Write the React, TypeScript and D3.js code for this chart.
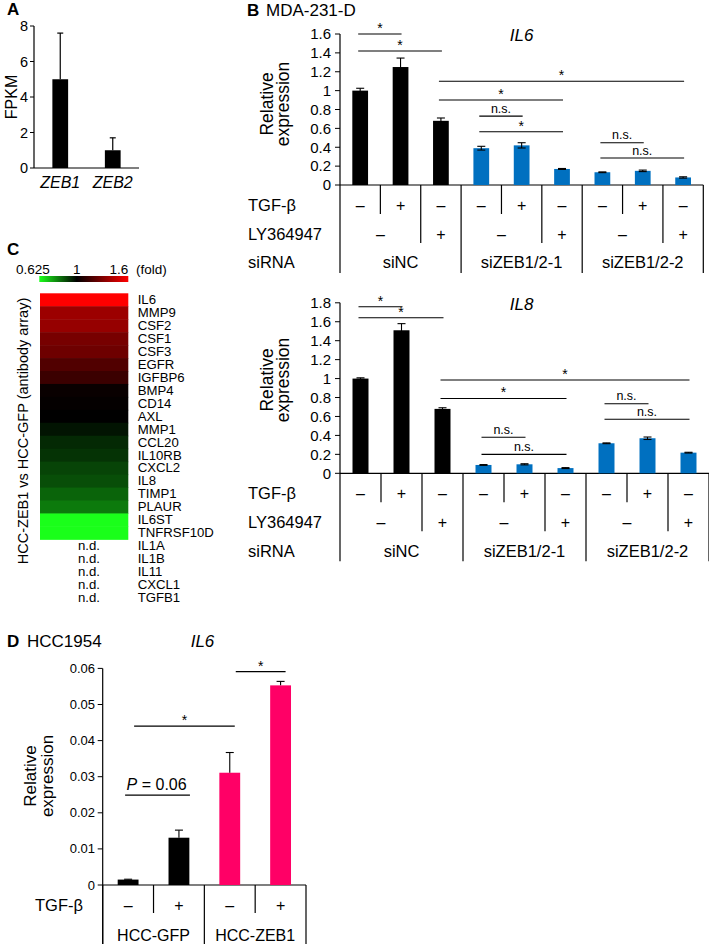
import React from "react";
import * as d3 from "d3";

const FONT = "'Liberation Sans', Arial, Helvetica, sans-serif";
const BLACK = "#000000";
const BLUE = "#0070C0";
const PINK = "#FF0066";

// ---------- Panel A ----------
const aGenes = ["ZEB1", "ZEB2"];
const aFpkm = [5.0, 1.0];
const aFpkmErr = [2.6, 0.7];
const aTicks = [0, 2, 4, 6, 8];

// ---------- Panel B ----------
const bRowLabels = ["TGF-β", "LY364947", "siRNA"];
const bTgf = ["–", "+", "–", "–", "+", "–", "–", "+", "–"];
const bLyLabels = ["–", "+", "–", "+", "–", "+"];
const bLySpans = [[0, 1], [2, 2], [3, 4], [5, 5], [6, 7], [8, 8]];
const bSiLabels = ["siNC", "siZEB1/2-1", "siZEB1/2-2"];
const bSiSpans = [[0, 2], [3, 5], [6, 8]];

const il6Values = [1.0, 1.25, 0.68, 0.39, 0.42, 0.17, 0.135, 0.15, 0.08];
const il6Err = [0.025, 0.095, 0.03, 0.02, 0.028, 0.005, 0.004, 0.008, 0.007];
const il6Ticks = [0, 0.2, 0.4, 0.6, 0.8, 1, 1.2, 1.4, 1.6];
const il6Sig = [
  { from: 0, to: 1, level: 1.6, label: "*" },
  { from: 0, to: 2, level: 1.42, label: "*" },
  { from: 2, to: 8, level: 1.1, label: "*" },
  { from: 2, to: 5, level: 0.9, label: "*" },
  { from: 3, to: 4, level: 0.73, label: "n.s." },
  { from: 3, to: 5, level: 0.565, label: "*" },
  { from: 6, to: 7, level: 0.448, label: "n.s." },
  { from: 6, to: 8, level: 0.286, label: "n.s." },
];

const il8Values = [1.0, 1.51, 0.68, 0.088, 0.095, 0.055, 0.317, 0.37, 0.218];
const il8Err = [0.008, 0.07, 0.012, 0.004, 0.006, 0.005, 0.004, 0.013, 0.004];
const il8Ticks = [0, 0.2, 0.4, 0.6, 0.8, 1, 1.2, 1.4, 1.6, 1.8];
const il8Sig = [
  { from: 0, to: 1, level: 1.758, label: "*" },
  { from: 0, to: 2, level: 1.642, label: "*" },
  { from: 2, to: 8, level: 0.985, label: "*" },
  { from: 2, to: 5, level: 0.79, label: "*" },
  { from: 6, to: 7, level: 0.735, label: "n.s." },
  { from: 6, to: 8, level: 0.57, label: "n.s." },
  { from: 3, to: 4, level: 0.38, label: "n.s." },
  { from: 3, to: 5, level: 0.2, label: "n.s." },
];

// ---------- Panel C ----------
const heatGenes = [
  "IL6", "MMP9", "CSF2", "CSF1", "CSF3", "EGFR", "IGFBP6", "BMP4", "CD14", "AXL",
  "MMP1", "CCL20", "IL10RB", "CXCL2", "IL8", "TIMP1", "PLAUR", "IL6ST", "TNFRSF10D",
];
const heatFold = [
  1.6, 1.366, 1.354, 1.28, 1.26, 1.19, 1.14, 1.02, 1.01, 1.0,
  0.97, 0.94, 0.925, 0.9, 0.885, 0.853, 0.82, 0.625, 0.625,
];
const ndGenes = ["IL1A", "IL1B", "IL11", "CXCL1", "TGFB1"];
const foldScaleLabels = ["0.625", "1", "1.6"];

// ---------- Panel D ----------
const dValues = [0.0015, 0.0131, 0.0311, 0.0553];
const dErr = [0.0001, 0.0021, 0.0056, 0.0011];
const dTicks = [0, 0.01, 0.02, 0.03, 0.04, 0.05, 0.06];
const dTgf = ["–", "+", "–", "+"];
const dGroups = ["HCC-GFP", "HCC-ZEB1"];
const dGroupSpans = [[0, 1], [2, 3]];
const dSig = [
  { from: 2, to: 3, level: 0.0591, label: "*" },
  { from: 0, to: 2, level: 0.044, label: "*" },
  { from: 0, to: 1, level: 0.0249, label: "P = 0.06" },
];

const fmt = d3.format("~g");

function PanelA() {
  const x = d3.scaleBand<string>().domain(aGenes).range([34, 139]);
  const y = d3.scaleLinear().domain([0, 8]).range([168, 26]);
  const bw = x.bandwidth();
  const barW = bw * 0.3;
  return (
    <g>
      <text x={7} y={15} fontSize={17} fontWeight="bold">A</text>
      <line x1={34} x2={34} y1={y(8)} y2={y(0)} stroke="#000" strokeWidth={1.2} />
      <line x1={34} x2={139} y1={y(0)} y2={y(0)} stroke="#000" strokeWidth={1.2} />
      {aTicks.map((t) => (
        <g key={t}>
          <line x1={30} x2={34} y1={y(t)} y2={y(t)} stroke="#000" />
          <text x={28} y={y(t)} dy="0.35em" textAnchor="end" fontSize={14.5}>{t}</text>
        </g>
      ))}
      <text transform={`translate(11,${y(4)}) rotate(-90)`} textAnchor="middle" dy="0.35em" fontSize={16}>FPKM</text>
      {aGenes.map((g, i) => {
        const cx = x(g)! + bw / 2;
        return (
          <g key={g}>
            <rect x={cx - barW / 2} y={y(aFpkm[i])} width={barW} height={y(0) - y(aFpkm[i])} fill={BLACK} />
            <line x1={cx} x2={cx} y1={y(aFpkm[i])} y2={y(aFpkm[i] + aFpkmErr[i])} stroke="#000" strokeWidth={1.2} />
            <line x1={cx - 3} x2={cx + 3} y1={y(aFpkm[i] + aFpkmErr[i])} y2={y(aFpkm[i] + aFpkmErr[i])} stroke="#000" strokeWidth={1.2} />
            <text x={cx} y={182} dy="0.35em" textAnchor="middle" fontSize={16} fontStyle="italic">{g}</text>
          </g>
        );
      })}
    </g>
  );
}

type Sig = { from: number; to: number; level: number; label: string };

function BChart(props: {
  values: number[]; errs: number[]; ticks: number[]; yMax: number; yZero: number; yTop: number;
  xRange: [number, number]; title: string; titleY: number; sigs: Sig[]; labelY: number;
}) {
  const { values, errs, ticks, yMax, yZero, yTop, xRange, title, titleY, sigs, labelY } = props;
  const idx = d3.range(values.length);
  const x = d3.scaleBand<number>().domain(idx).range(xRange);
  const y = d3.scaleLinear().domain([0, yMax]).range([yZero, yTop]);
  const bw = x.bandwidth();
  const barW = bw * 0.39;
  const cx = (i: number) => x(i)! + bw / 2;
  const groupOf = (i: number) => bSiSpans.findIndex((s) => i >= s[0] && i <= s[1]);
  const rowY = [yZero + 20, yZero + 49, yZero + 77.5];
  const tableBottom = yZero + 88;
  const boundaries = d3.range(values.length + 1).map((i) => {
    const xp = i < values.length ? x(i)! : xRange[1];
    let bottom = yZero + 29;
    if (i === 0 || i === values.length || bSiSpans.some((s) => s[0] === i)) bottom = tableBottom;
    else if (bLySpans.some((s) => s[0] === i)) bottom = yZero + 58;
    return { xp, bottom, i };
  });
  const spanCenter = (s: number[]) => (x(s[0])! + x(s[1])! + bw) / 2;
  return (
    <g>
      <line x1={xRange[0]} x2={xRange[0]} y1={yTop} y2={yZero} stroke="#000" strokeWidth={1.2} />
      <line x1={xRange[0]} x2={xRange[1]} y1={yZero} y2={yZero} stroke="#000" strokeWidth={1.2} />
      {ticks.map((t) => (
        <g key={t}>
          <line x1={xRange[0] - 5} x2={xRange[0]} y1={y(t)} y2={y(t)} stroke="#000" />
          <text x={331} y={y(t)} dy="0.35em" textAnchor="end" fontSize={15}>{fmt(t)}</text>
        </g>
      ))}
      <text transform={`translate(266.7,${labelY}) rotate(-90)`} textAnchor="middle" dy="0.35em" fontSize={17.5}>Relative</text>
      <text transform={`translate(283,${labelY}) rotate(-90)`} textAnchor="middle" dy="0.35em" fontSize={17.5}>expression</text>
      <text x={(xRange[0] + 703.3) / 2} y={titleY} textAnchor="middle" fontSize={17} fontStyle="italic">{title}</text>
      {idx.map((i) => {
        const v = values[i];
        const e = errs[i];
        return (
          <g key={i}>
            <rect x={cx(i) - barW / 2} y={y(v)} width={barW} height={yZero - y(v)} fill={groupOf(i) === 0 ? BLACK : BLUE} />
            <line x1={cx(i)} x2={cx(i)} y1={y(v - e)} y2={y(v + e)} stroke="#000" strokeWidth={1.1} />
            <line x1={cx(i) - 4} x2={cx(i) + 4} y1={y(v + e)} y2={y(v + e)} stroke="#000" strokeWidth={1.1} />
            <line x1={cx(i) - 4} x2={cx(i) + 4} y1={y(v - e)} y2={y(v - e)} stroke="#000" strokeWidth={1.1} />
          </g>
        );
      })}
      {sigs.map((s, k) => {
        const x1 = cx(s.from) - 2;
        const x2 = cx(s.to) + 1;
        const ly = y(s.level);
        const star = s.label === "*";
        return (
          <g key={k}>
            <line x1={x1} x2={x2} y1={ly} y2={ly} stroke="#000" strokeWidth={1.1} />
            <text x={(x1 + x2) / 2} y={star ? ly - 1 : ly - 3.5} textAnchor="middle" fontSize={star ? 14 : 12.5}>{s.label}</text>
          </g>
        );
      })}
      {/* table */}
      {boundaries.map((b) => (
        <line key={b.i} x1={b.xp} x2={b.xp} y1={yZero} y2={b.bottom} stroke="#000" strokeWidth={1.2} />
      ))}
      {bRowLabels.map((l, r) => (
        <text key={l} x={248} y={rowY[r]} dy="0.35em" fontSize={16.5}>{l}</text>
      ))}
      {bTgf.map((t, i) => (
        <text key={i} x={cx(i)} y={rowY[0]} dy="0.35em" textAnchor="middle" fontSize={16}>{t}</text>
      ))}
      {bLyLabels.map((t, k) => (
        <text key={k} x={spanCenter(bLySpans[k])} y={rowY[1]} dy="0.35em" textAnchor="middle" fontSize={16}>{t}</text>
      ))}
      {bSiLabels.map((t, k) => (
        <text key={k} x={spanCenter(bSiSpans[k])} y={rowY[2]} dy="0.35em" textAnchor="middle" fontSize={16.5}>{t}</text>
      ))}
    </g>
  );
}

function PanelB() {
  return (
    <g>
      <text x={247} y={15.5} fontSize={17} fontWeight="bold">B</text>
      <text x={266} y={15.5} fontSize={17}>MDA-231-D</text>
      <BChart values={il6Values} errs={il6Err} ticks={il6Ticks} yMax={1.6} yZero={185} yTop={34}
        xRange={[340, 703.3]} title="IL6" titleY={41} sigs={il6Sig} labelY={104} />
      <BChart values={il8Values} errs={il8Err} ticks={il8Ticks} yMax={1.8} yZero={473.3} yTop={302.8}
        xRange={[340, 709]} title="IL8" titleY={309.5} sigs={il8Sig} labelY={380} />
    </g>
  );
}

function PanelC() {
  const allGenes = heatGenes.concat(ndGenes);
  const rows = d3.scaleBand<string>().domain(allGenes).range([293.3, 293.3 + allGenes.length * 12.95]);
  const color = d3.scaleLinear<string>().domain([0.625, 1, 1.6]).range(["#1aff1a", "#000000", "#ff0000"]);
  const cbar = d3.scaleLinear().domain([0.625, 1, 1.6]).range([39.3, 76.7, 128.3]);
  const stopOff = (cbar(1) - cbar(0.625)) / (cbar(1.6) - cbar(0.625));
  const labelX = [16, cbar(1), cbar(1.6)];
  const anchors = ["start", "middle", "end"];
  return (
    <g>
      <defs>
        <linearGradient id="foldGrad" x1="0" x2="1" y1="0" y2="0">
          <stop offset="0" stopColor={color(0.625)} />
          <stop offset={stopOff} stopColor={color(1)} />
          <stop offset="1" stopColor={color(1.6)} />
        </linearGradient>
      </defs>
      <text x={7} y={255} fontSize={17} fontWeight="bold">C</text>
      {foldScaleLabels.map((l, i) => (
        <text key={l} x={labelX[i]} y={274} textAnchor={anchors[i] as any} fontSize={13.5}>{l}</text>
      ))}
      <text x={136} y={274} fontSize={13.5}>(fold)</text>
      <rect x={cbar(0.625)} y={276} width={cbar(1.6) - cbar(0.625)} height={6} fill="url(#foldGrad)" />
      {heatGenes.map((g, i) => (
        <rect key={g} x={40} y={rows(g)!} width={88.3} height={rows.bandwidth() + 0.5} fill={color(heatFold[i])} />
      ))}
      {allGenes.map((g) => (
        <text key={g} x={137.7} y={rows(g)! + rows.bandwidth() / 2} dy="0.33em" fontSize={13.2}>{g}</text>
      ))}
      {ndGenes.map((g) => (
        <text key={g} x={78} y={rows(g)! + rows.bandwidth() / 2} dy="0.33em" fontSize={13.2}>n.d.</text>
      ))}
      <text transform="translate(23,431) rotate(-90)" textAnchor="middle" dy="0.35em" fontSize={14.5}>
        HCC-ZEB1 vs HCC-GFP (antibody array)
      </text>
    </g>
  );
}

function PanelD() {
  const idx = d3.range(dValues.length);
  const xR: [number, number] = [102.7, 306];
  const x = d3.scaleBand<number>().domain(idx).range(xR);
  const y = d3.scaleLinear().domain([0, 0.06]).range([885, 668.4]);
  const bw = x.bandwidth();
  const barW = bw * 0.41;
  const cx = (i: number) => x(i)! + bw / 2;
  const yZero = y(0);
  return (
    <g>
      <text x={7} y={646.7} fontSize={17} fontWeight="bold">D</text>
      <text x={27} y={646.7} fontSize={17}>HCC1954</text>
      <text x={202.5} y={646.7} textAnchor="middle" fontSize={17} fontStyle="italic">IL6</text>
      <line x1={xR[0]} x2={xR[0]} y1={y(0.06)} y2={944} stroke="#000" strokeWidth={1.2} />
      <line x1={xR[0]} x2={xR[1]} y1={yZero} y2={yZero} stroke="#000" strokeWidth={1.2} />
      {dTicks.map((t) => (
        <g key={t}>
          <line x1={xR[0] - 5} x2={xR[0]} y1={y(t)} y2={y(t)} stroke="#000" />
          <text x={95} y={y(t)} dy="0.35em" textAnchor="end" fontSize={13}>{fmt(t)}</text>
        </g>
      ))}
      <text transform="translate(30,776) rotate(-90)" textAnchor="middle" dy="0.35em" fontSize={17}>Relative</text>
      <text transform="translate(46.7,776) rotate(-90)" textAnchor="middle" dy="0.35em" fontSize={17}>expression</text>
      {idx.map((i) => {
        const v = dValues[i];
        const e = dErr[i];
        return (
          <g key={i}>
            <rect x={cx(i) - barW / 2} y={y(v)} width={barW} height={yZero - y(v)} fill={i < 2 ? BLACK : PINK} />
            <line x1={cx(i)} x2={cx(i)} y1={y(v)} y2={y(v + e)} stroke="#000" strokeWidth={1.1} />
            <line x1={cx(i) - 4} x2={cx(i) + 4} y1={y(v + e)} y2={y(v + e)} stroke="#000" strokeWidth={1.1} />
          </g>
        );
      })}
      {dSig.map((s, k) => {
        const isP = s.label.startsWith("P");
        const x1 = isP ? cx(s.from) - 3 : cx(s.from) + 6;
        const x2 = isP ? cx(s.to) + 11 : cx(s.to) + 5;
        const ly = y(s.level);
        return (
          <g key={k}>
            <line x1={x1} x2={x2} y1={ly} y2={ly} stroke="#000" strokeWidth={1.1} />
            {isP ? (
              <text x={x1 + 1.5} y={ly - 5} fontSize={16}>
                <tspan fontStyle="italic">P</tspan>
                <tspan>{s.label.slice(1)}</tspan>
              </text>
            ) : (
              <text x={(x1 + x2) / 2} y={ly - 1} textAnchor="middle" fontSize={14}>{s.label}</text>
            )}
          </g>
        );
      })}
      {d3.range(dValues.length + 1).map((i) => {
        const xp = i < dValues.length ? x(i)! : xR[1];
        const full = i === 0 || i === dValues.length || dGroupSpans.some((s) => s[0] === i);
        return <line key={i} x1={xp} x2={xp} y1={yZero} y2={full ? 944 : yZero + 28} stroke="#000" strokeWidth={1.2} />;
      })}
      <text x={35} y={905} dy="0.35em" fontSize={16.5}>TGF-β</text>
      {dTgf.map((t, i) => (
        <text key={i} x={cx(i)} y={905} dy="0.35em" textAnchor="middle" fontSize={16}>{t}</text>
      ))}
      {dGroups.map((g, k) => (
        <text key={g} x={(x(dGroupSpans[k][0])! + x(dGroupSpans[k][1])! + bw) / 2} y={935} dy="0.35em" textAnchor="middle" fontSize={16}>{g}</text>
      ))}
    </g>
  );
}

export default function App() {
  return (
    <div style={{ position: "absolute", left: 0, top: 0 }}>
      <svg width={709} height={944} style={{ display: "block", background: "#fff" }} fontFamily={FONT}>
        <rect width={709} height={944} fill="#fff" />
        <PanelA />
        <PanelB />
        <PanelC />
        <PanelD />
      </svg>
    </div>
  );
}
